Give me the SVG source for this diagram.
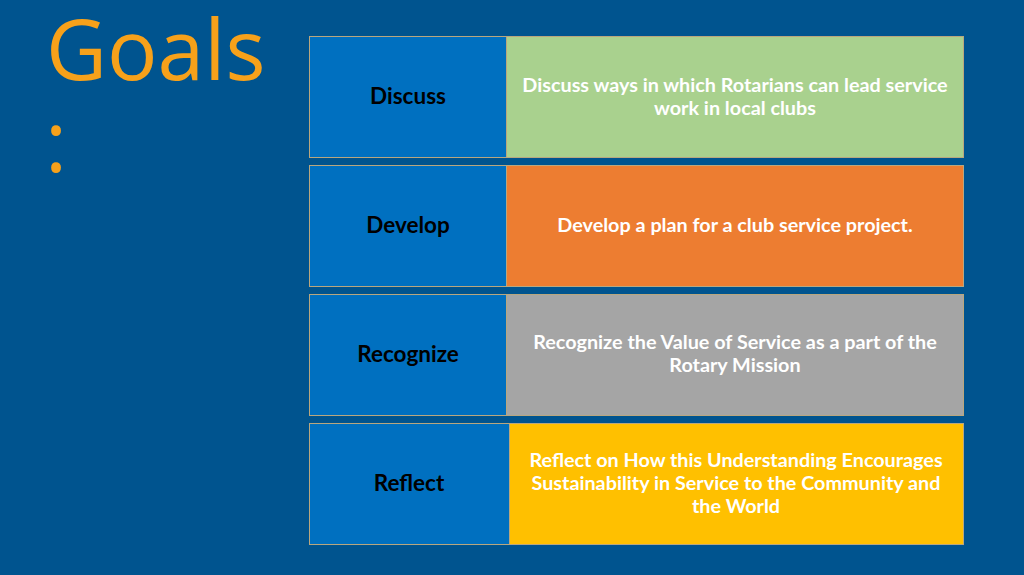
<svg xmlns="http://www.w3.org/2000/svg" width="1024" height="575" viewBox="0 0 1024 575">
<style>
.l{fill:#0070C0;stroke:#B9A77F;stroke-width:1}
.r{stroke:#B9A77F;stroke-width:1}
.lt{font-family:Lato,"Liberation Sans",sans-serif;font-weight:bold;font-size:22.5px;fill:#000;text-anchor:middle}
.rt{font-family:Lato,"Liberation Sans",sans-serif;font-weight:bold;font-size:19.8px;fill:#fff;text-anchor:middle}
.t{font-family:"Open Sans","Liberation Sans",sans-serif;fill:#F7A11A;font-size:84px}
</style>
<rect width="1024" height="575" fill="#00548F"/>
<text class="t" x="46" y="80">Goals</text>
<text class="t" x="45" y="172">:</text>
<g id="n1"><rect class="l" x="309.5" y="36.5" width="197" height="121"/><text class="lt" x="408" y="104">Discuss</text>
<rect class="r" fill="#A9D18E" x="506.5" y="36.5" width="457" height="121"/><text class="rt" x="735" y="92">Discuss ways in which Rotarians can lead service</text><text class="rt" x="735" y="115">work in local clubs</text></g>
<g id="n2"><rect class="l" x="309.5" y="165.5" width="197" height="121"/><text class="lt" x="408" y="233">Develop</text>
<rect class="r" fill="#ED7D31" x="506.5" y="165.5" width="457" height="121"/><text class="rt" x="735" y="232">Develop a plan for a club service project.</text></g>
<g id="n3"><rect class="l" x="309.5" y="294.5" width="197" height="121"/><text class="lt" x="408" y="362">Recognize</text>
<rect class="r" fill="#A5A5A5" x="506.5" y="294.5" width="457" height="121"/><text class="rt" x="735" y="349">Recognize the Value of Service as a part of the</text><text class="rt" x="735" y="372">Rotary Mission</text></g>
<g id="n4"><rect class="l" x="309.5" y="423.5" width="200" height="121"/><text class="lt" x="409" y="491">Reflect</text>
<rect class="r" fill="#FFC000" x="509.5" y="423.5" width="454" height="121"/><text class="rt" x="736" y="467">Reflect on How this Understanding Encourages</text><text class="rt" x="736" y="490">Sustainability in Service to the Community and</text><text class="rt" x="736" y="513">the World</text></g>
<g id="connectors"/>
</svg>
